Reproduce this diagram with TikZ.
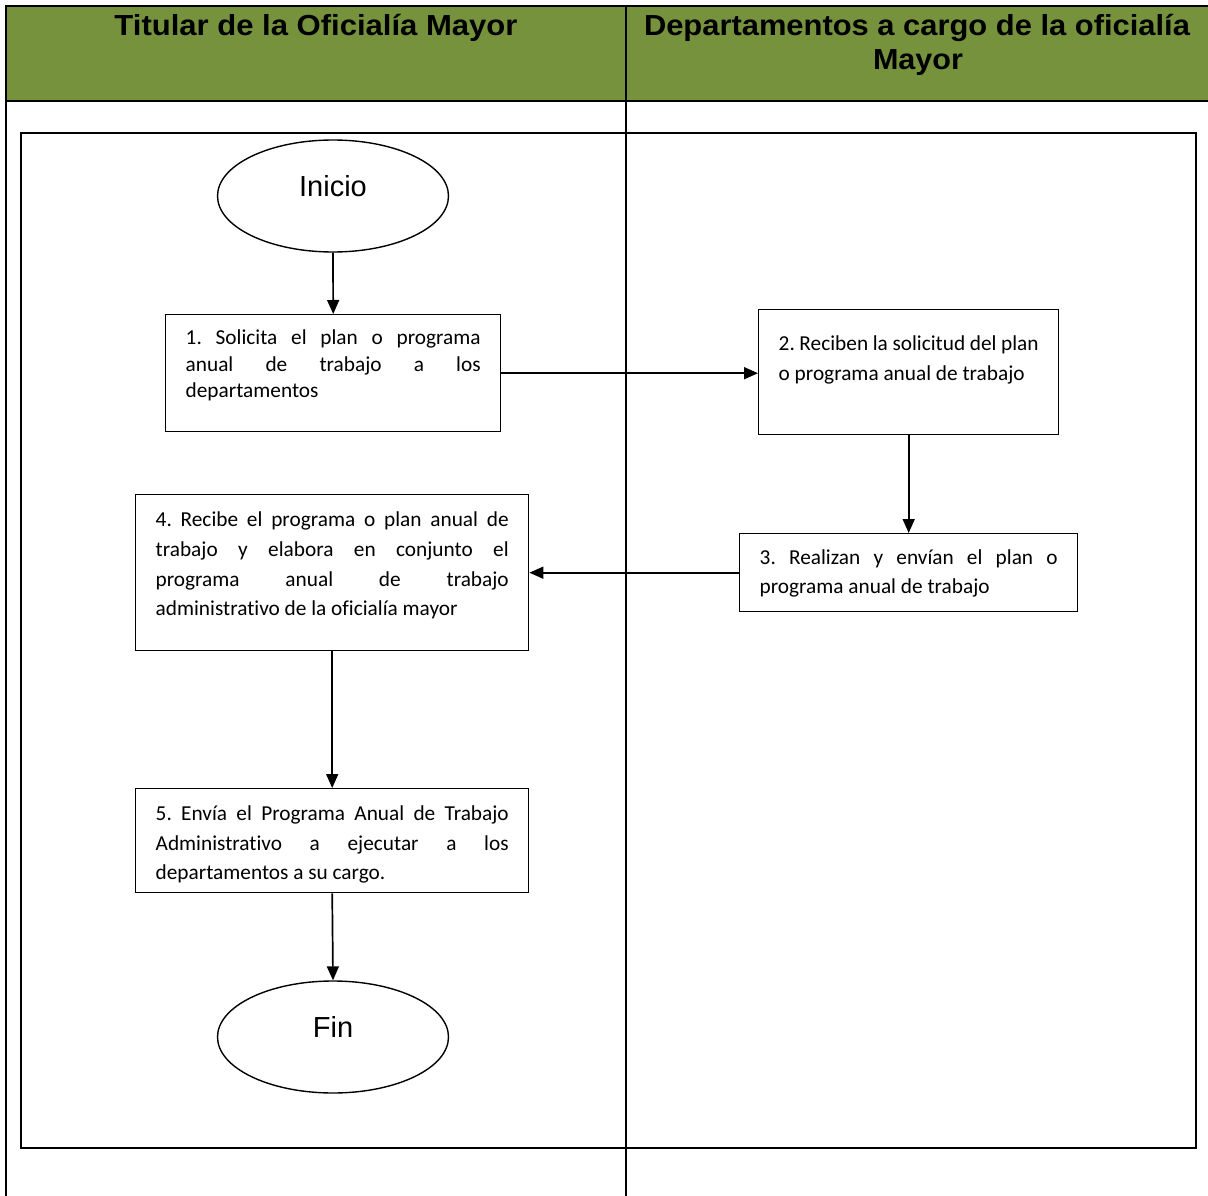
\documentclass[tikz,border=0pt]{standalone}
\usepackage{fontspec}
\usepackage{graphicx}
\setmainfont{Carlito}[Ligatures=NoCommon]
\newfontfamily\hdrfont{Liberation Sans}
\newfontfamily\termfont{Liberation Sans}
\usetikzlibrary{shapes.geometric,arrows.meta}
\definecolor{headgreen}{HTML}{76923C}

% step box: fixed size, text starting from the top with a given first baseline
\newcommand\steptext[5]{\parbox[c][#1][t]{#2}{\frenchspacing\fontsize{21.3pt}{#4}\selectfont\rule{0pt}{#3}#5}}
% header line stretched to a given width
\newcommand\hdrline[2]{\resizebox{#1}{\height}{\hdrfont\bfseries\fontsize{29pt}{34pt}\selectfont #2}}

\begin{document}
\begin{tikzpicture}[x=1pt,y=-1pt,
  frame/.style={line width=1.8pt},
  lanebox/.style={draw,line width=1.5pt},
  stepbox/.style={draw,line width=1.4pt,rectangle,inner xsep=20pt,inner ysep=0pt,anchor=north west},
  term/.style={draw,ellipse,line width=1.4pt,minimum width=231pt,minimum height=112pt,inner sep=0pt,font=\termfont\fontsize{29pt}{34pt}\selectfont},
  flow/.style={-{Triangle[length=14pt,width=12pt]},line width=1.7pt},
  hdr/.style={anchor=base,inner sep=0pt}]
\useasboundingbox (0,0) rectangle (1208,1196);

% header band and lane lines
\fill[headgreen] (6,6) rectangle (1208,101);
\draw[frame] (1208,6) -- (6,6) -- (6,1196);
\draw[frame] (6,101) -- (1208,101);
\draw[frame] (626,6) -- (626,1196);
\draw[lanebox] (21,133) rectangle (1196,1148);

\node[hdr] (h1) at (316,36) {\hdrline{403pt}{Titular de la Oficialía Mayor}};
\node[hdr] (h2) at (917,36) {\hdrline{546pt}{Departamentos a cargo de la oficialía}};
\node[hdr] (h3) at (918,70) {\hdrline{90pt}{Mayor}};

% terminals
\node[term] (ini) at (333,196) {\raisebox{20pt}{Inicio}};
\node[term] (fin) at (333,1037) {\raisebox{20pt}{Fin}};

% steps
\node[stepbox] (b1) at (165,314) {\steptext{117pt}{295pt}{30pt}{26.5pt}{1. Solicita el plan o programa\linebreak anual de trabajo a los\linebreak departamentos}};
\node[stepbox] (b2) at (758,309) {\steptext{125pt}{260pt}{41pt}{30pt}{2. Reciben la solicitud del plan\\ o programa anual de trabajo}};
\node[stepbox] (b3) at (739,533) {\steptext{78pt}{298pt}{31pt}{29pt}{3. Realizan y envían el plan o\linebreak programa anual de trabajo}};
\node[stepbox] (b4) at (135,494) {\steptext{156pt}{353pt}{32pt}{29.7pt}{4. Recibe el programa o plan anual de\linebreak trabajo y elabora en conjunto el\linebreak programa anual de trabajo\linebreak administrativo de la oficialía mayor}};
\node[stepbox] (b5) at (135,788) {\steptext{104pt}{353pt}{32pt}{29.5pt}{5. Envía el Programa Anual de Trabajo\linebreak Administrativo a ejecutar a los\linebreak departamentos a su cargo.}};

% connectors
\draw[flow] (ini.south) -- (b1.north);
\draw[flow] (b1.east) -- (b1.east -| b2.west);
\draw[flow] (b2.south) -- (b3.north);
\draw[flow] (b3.west) -- (b3.west -| b4.east);
\draw[flow] (b4.south) -- (b5.north);
\draw[flow] (b5.south) -- (fin.north);
\end{tikzpicture}
\end{document}
